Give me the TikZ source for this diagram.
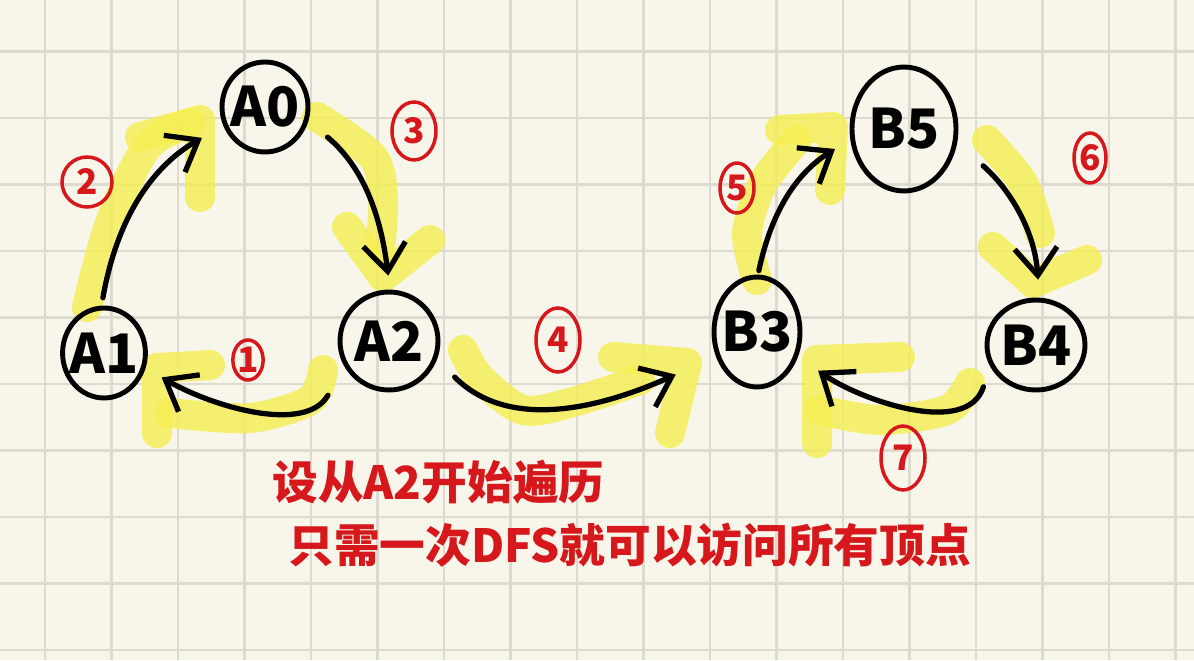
\documentclass[tikz,border=0pt]{standalone}
\usepackage{fontspec}
\setmainfont{Noto Sans}
\newfontfamily\cjk{Noto Sans CJK SC}
\usetikzlibrary{shapes.geometric,arrows.meta}
\definecolor{paper}{RGB}{248,246,235}
\definecolor{gridline}{RGB}{221,219,207}
\definecolor{hlyellow}{RGB}{245,238,80}
\definecolor{pen}{RGB}{214,24,28}
\begin{document}
\begin{tikzpicture}[x=0.02cm, y=0.02cm,
  vtx/.style={ellipse, draw, line width=2.8pt, inner sep=-3pt, font=\fontsize{31}{36}\selectfont\cjk\bfseries},
  num/.style={ellipse, draw=pen, text=pen, line width=2pt, inner sep=0pt, font=\fontsize{20}{22}\selectfont\cjk\bfseries},
  link/.style={line width=3pt, line cap=round, -{Straight Barb[length=5.5mm,width=8.5mm]}},
  hl/.style={hlyellow, opacity=0.8, line width=0.6cm, line cap=round, line join=round},
  note/.style={text=pen, inner sep=0pt, anchor=west, font=\fontsize{26}{30}\selectfont\cjk\bfseries}]
\useasboundingbox (0,0) rectangle (1194,660);
\fill[paper] (0,0) rectangle (1194,660);
% grid paper
\foreach \i in {0,...,17} \draw[gridline, line width=0.05cm] ({45+66.5*\i},0) -- ({45+66.5*\i},660);
\foreach \j in {0,...,9} \draw[gridline, line width=0.05cm] (0,{608.5-66.5*\j}) -- (1194,{608.5-66.5*\j});
% highlighter
\draw[hl] plot[smooth] coordinates {(323,290) (310,260) (250,242) (170,247)};
\draw[hl] (157,227) -- (157,292) -- (210,295);
\draw[hl] plot[smooth] coordinates {(87,353) (110,437) (147,513) (190,537)};
\draw[hl] (140,523) -- (200,540) -- (200,463);
\draw[hl] plot[smooth] coordinates {(317,543) (373,503) (383,460) (380,410)};
\draw[hl] (347,433) -- (383,383) -- (430,420);
\draw[hl] plot[smooth] coordinates {(463,310) (480,282) (523,250) (573,258) (640,280)};
\draw[hl] (613,303) -- (687,297) -- (670,227);
\draw[hl] plot[smooth] coordinates {(757,380) (747,427) (763,477) (797,520)};
\draw[hl] (780,530) -- (833,533) -- (830,470);
\draw[hl] plot[smooth] coordinates {(987,520) (1023,477) (1040,427)};
\draw[hl] (993,413) -- (1033,377) -- (1087,400);
\draw[hl] plot[smooth] coordinates {(970,277) (947,250) (880,240) (820,250)};
\draw[hl] (817,217) -- (817,300) -- (900,303);
% vertices
\node[vtx, minimum width=1.72cm, minimum height=1.8cm] (A0) at (265,553) {A0};
\node[vtx, minimum width=1.48cm, minimum height=1.8cm] (A1) at (104,307) {A1};
\node[vtx, minimum width=1.96cm, minimum height=1.96cm] (A2) at (389,319) {A2};
\node[vtx, minimum width=2.08cm, minimum height=2.48cm] (B5) at (904,531) {B5};
\node[vtx, minimum width=1.72cm, minimum height=2.2cm] (B3) at (757,328) {B3};
\node[vtx, minimum width=1.96cm, minimum height=1.8cm] (B4) at (1036,315) {B4};
% dfs order
\draw[link, shorten <=0.66cm, shorten >=0.37cm] (A2.210) to[out=-120, in=-30] (A1.-20);
\draw[link, shorten <=0.16cm, shorten >=0.49cm] (A1.93) to[out=80, in=210] (A0.204);
\draw[link, shorten <=0.5cm, shorten >=0.28cm] (A0.-18) to[out=-40, in=97] (A2.89);
\draw[link, shorten <=0.5cm, shorten >=0.88cm] (A2.-21) to[out=-45, in=204] (B3.211);
\draw[link, shorten <=0.08cm, shorten >=0.36cm] (B3.89) to[out=78, in=212] (B5.191);
\draw[link, shorten <=0.69cm, shorten >=0.36cm] (B5.-15) to[out=-41, in=94] (B4.86);
\draw[link, shorten <=0.43cm, shorten >=0.49cm] (B4.205) to[out=-108, in=-35] (B3.-31);
% step numbers
\node[num, minimum width=0.6cm, minimum height=0.8cm] (n1) at (248,300) {1};
\node[num, minimum width=1cm, minimum height=1cm] (n2) at (87,478) {2};
\node[num, minimum width=0.88cm, minimum height=1.16cm] (n3) at (414,529) {3};
\node[num, minimum width=0.88cm, minimum height=1.28cm] (n4) at (558,320) {4};
\node[num, minimum width=0.68cm, minimum height=1cm] (n5) at (737,472) {5};
\node[num, minimum width=0.64cm, minimum height=1cm] (n6) at (1090,502) {6};
\node[num, minimum width=0.88cm, minimum height=1.28cm] (n7) at (903,202) {7};
% notes
\node[note] (t1) at (272,178) {设从A2开始遍历};
\node[note] (t2) at (288,115) {只需一次DFS就可以访问所有顶点};
\end{tikzpicture}
\end{document}
